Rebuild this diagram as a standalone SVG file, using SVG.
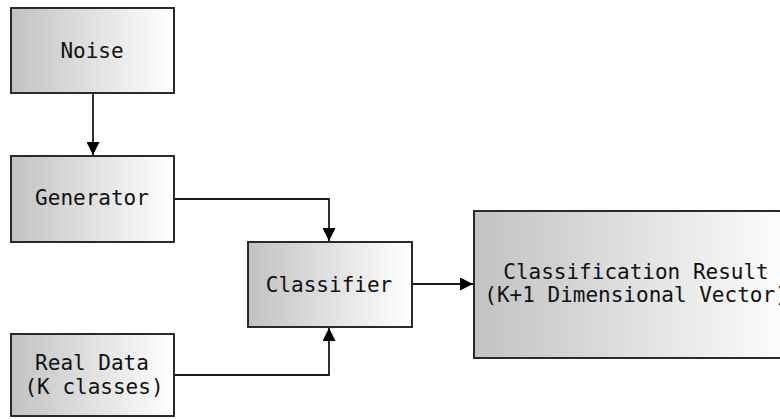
<svg xmlns="http://www.w3.org/2000/svg" width="780" height="419" viewBox="0 0 780 419">
<style>
.box{stroke:#2a2a2a;stroke-width:2;fill:url(#g)}
.t{font-family:"DejaVu Sans Mono","Liberation Mono",monospace;font-size:21px;fill:#111;text-anchor:middle}
.c{stroke:#1a1a1a;stroke-width:1.8;fill:none}
</style>
<defs>
<linearGradient id="g" x1="0" y1="0" x2="1" y2="0">
<stop offset="0" stop-color="#c2c2c2"/>
<stop offset="1" stop-color="#ffffff"/>
</linearGradient>
<marker id="a" markerWidth="13" markerHeight="13" viewBox="0 0 13 13" refX="13" refY="6.5" orient="auto" markerUnits="userSpaceOnUse">
<path d="M0,0 L13,6.5 L0,13 Z" fill="#000"/>
</marker>
</defs>
<g id="connectors">
<path class="c" d="M93,93 V155" marker-end="url(#a)"/>
<path class="c" d="M174,199 H329 V241" marker-end="url(#a)"/>
<path class="c" d="M174,375 H329 V328" marker-end="url(#a)"/>
<path class="c" d="M412,284 H473" marker-end="url(#a)"/>
</g>
<g id="noise"><rect class="box" x="11" y="8" width="163" height="85"/><text class="t" x="92" y="58">Noise</text></g>
<g id="generator"><rect class="box" x="11" y="156" width="163" height="86"/><text class="t" x="92" y="205">Generator</text></g>
<g id="realdata"><rect class="box" x="11" y="334" width="163" height="82"/><text class="t" x="92" y="369.5">Real Data</text><text class="t" x="94" y="394">(K classes)</text></g>
<g id="classifier"><rect class="box" x="248" y="242" width="164" height="85"/><text class="t" x="329" y="292">Classifier</text></g>
<g id="result"><rect class="box" x="474" y="211" width="324" height="147"/><text class="t" x="636" y="279">Classification Result </text><text class="t" x="636" y="302">(K+1 Dimensional Vector)</text></g>
</svg>
